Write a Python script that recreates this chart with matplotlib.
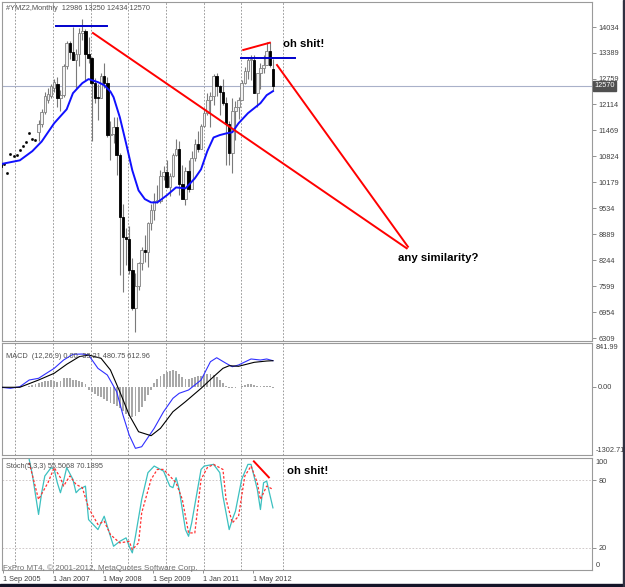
import matplotlib
matplotlib.use("Agg")
import matplotlib.pyplot as plt
import numpy as np

# monthly bars, Aug 2005 .. Nov 2012 (first 12 are flat ticks on the chart)
opens = [10660, 10620, 10400, 10870, 10820, 10850, 10970, 11070, 11170, 11395, 11245, 11220,
         11430, 11630, 11930, 12231, 12321,
         12513, 12622, 12269, 12354, 13063, 13628, 13409, 13212, 13358, 13896, 13930, 13372,
         13265, 12650, 12266, 12263, 12820, 12638, 11350, 11378, 11544, 10851, 9325, 8829,
         8776, 8001, 7063, 7609, 8168, 8500, 8447, 9172, 9496, 9712, 9713, 10345,
         10428, 10067, 10325, 10857, 11009, 10137, 9774, 10466, 10015, 10788, 11118, 11006,
         11578, 11892, 12226, 12320, 12811, 12570, 12414, 12143, 11614, 10913, 11955, 12046,
         12218, 12633, 12952, 13212, 13214, 12393, 12880, 13009, 13091, 13437, 12986]
highs = [10660, 10620, 10400, 10870, 10820, 10850, 10970, 11070, 11170, 11395, 11245, 11220,
         11720, 11990, 12420, 12511, 12629,
         12733, 12795, 12480, 13120, 13690, 13693, 14022, 13480, 14000, 14230, 13980, 13780,
         13280, 12770, 12630, 12900, 13140, 12780, 11700, 11810, 11790, 10900, 9650, 9030,
         9090, 8300, 7930, 8200, 8580, 8880, 9200, 9630, 9920, 10120, 10480, 10580,
         10730, 10400, 10900, 11260, 11210, 10600, 10550, 10720, 10950, 11250, 11450, 11630,
         12020, 12390, 12420, 12870, 12880, 12590, 12750, 12300, 11700, 12280, 12200, 12300,
         12720, 13050, 13290, 13340, 13340, 12900, 13140, 13330, 13660, 13660, 13250]
lows = [10540, 10620, 10400, 10870, 10820, 10850, 10970, 11070, 11170, 11395, 11245, 11220,
        11210, 11550, 11880, 12136, 12280,
        12410, 12050, 11940, 12300, 13000, 13250, 13210, 12518, 13070, 13700, 12724, 13150,
        11200, 12150, 11730, 12260, 12520, 11290, 10730, 11150, 10360, 7882, 7449, 8118,
        7909, 7000, 6470, 7500, 8000, 8200, 8080, 9000, 9250, 9670, 9670, 10230,
        10030, 9830, 10300, 10840, 9870, 9770, 9614, 9940, 10000, 10700, 10930, 11000,
        11550, 11850, 11550, 12090, 12330, 11860, 12090, 10600, 10600, 10400, 11230, 11740,
        12210, 12620, 12740, 12710, 12390, 12040, 12490, 12880, 13080, 13050, 12434]
closes = [10560, 10620, 10400, 10870, 10820, 10850, 10970, 11070, 11170, 11395, 11245, 11220,
          11630, 11930, 12330, 12371, 12563,
          12672, 12269, 12354, 13063, 13628, 13409, 13212, 13358, 13896, 13930, 13372, 13265,
          12650, 12266, 12263, 12820, 12638, 11350, 11378, 11544, 10851, 9325, 8829, 8776,
          8001, 7063, 7609, 8168, 8500, 8447, 9172, 9496, 9712, 9713, 10345, 10428,
          10067, 10325, 10857, 11009, 10137, 9774, 10466, 10015, 10788, 11118, 11006, 11578,
          11892, 12226, 12320, 12811, 12570, 12414, 12143, 11614, 10913, 11955, 12046, 12218,
          12633, 12952, 13212, 13214, 12393, 12880, 13009, 13091, 13437, 13096, 12570]

# moving average (blue)
ma_idx = [0, 6, 10, 13, 17, 21, 23, 26, 28, 31, 33, 35, 36, 38, 40, 42, 44, 46, 48, 50,
          53, 56, 59, 62, 64, 66, 68, 70, 72, 74, 76, 79, 83, 85, 87]
ma_val = [10630, 10722, 10950, 11190, 11644, 11990, 12390, 12640, 12740, 12665, 12590, 12430,
          12291, 11793, 11146, 10473, 9975, 9760, 9677, 9677, 9851, 10050, 10025, 10274, 10500,
          10950, 11290, 11350, 11390, 11420, 11644, 11893, 12142, 12341, 12440]

# MACD panel
macd_hist = [0, 0, 0, 0, 0, 0, 0, 0, 0, 19, 38, 57, 77, 96, 115, 115, 134, 115, 96, 115,
             172, 180, 172, 134, 134, 115, 96, 57,
             -57, -96, -134, -172, -192, -230, -268, -306, -326, -364, -402, -460, -517, -555,
             -575, -555, -479, -383, -268, -153, -57,
             77, 153, 211, 249, 287, 306, 326, 306, 249, 192, 153, 153, 172, 192, 211, 211, 230,
             249, 249, 230, 192, 134, 77, 19,
             -19, -19, -19, 0, 19, 38, 57, 57, 38, 19, 19, 19, 19, 19, -19]
macd_blue_idx = [0, 3, 6, 9, 12, 17, 20, 23, 26, 28, 31, 34, 37, 39, 41, 43, 45, 49, 52, 55,
                 57, 60, 64, 67, 69, 72, 74, 76, 80, 83, 85, 87]
macd_blue_val = [-6, -26, 5, 133, 166, 357, 516, 626, 631, 612, 357, 229, -91, -537, -920,
                 -1175, -1144, -792, -474, -217, -121, -58, 133, 484, 560, 453, 388, 421, 536,
                 516, 536, 503]
macd_black_idx = [0, 6, 12, 17, 21, 25, 28, 32, 35, 38, 41, 44, 48, 51, 55, 59, 64, 68, 71,
                  73, 76, 81, 85, 87]
macd_black_val = [-6, -6, 133, 262, 434, 580, 612, 549, 325, -91, -537, -857, -933, -792,
                  -474, -282, -26, 197, 357, 407, 396, 472, 497, 503]

# Stochastic panel
stoch_k_idx = [9, 10, 12, 13, 14, 16, 17, 18, 19, 20, 21, 23, 24, 25, 27, 28, 31, 33, 34, 36,
               38, 40, 41, 42, 43, 45, 47, 49, 51, 52, 54, 55, 56, 57, 59, 60, 61, 64, 65, 68,
               70, 71, 73, 74, 75, 77, 79, 80, 82, 83, 84, 85, 87]
stoch_k_val = [98.8, 85.4, 49.6, 69, 83.9, 91.4, 89.8, 77.9, 69, 79.4, 91.4, 80.9, 69, 72,
               74.9, 45, 36.1, 48, 39, 21.2, 25.6, 28.7, 21.2, 15.3, 30.1, 63, 86.9, 92.8,
               89.8, 88.3, 74.9, 73.5, 82.4, 72, 36.1, 30.1, 42.1, 89.8, 92.8, 94.3, 86.9, 66,
               36.1, 45.1, 52.5, 80.9, 94.3, 94.3, 72, 54, 77.9, 79.4, 55.5]
stoch_d_idx = [9, 12, 15, 17, 19, 20, 22, 24, 26, 28, 31, 33, 35, 38, 41, 42, 44, 45, 48, 50,
               52, 55, 56, 58, 60, 62, 64, 66, 68, 71, 72, 74, 76, 78, 80, 82, 83, 85, 87]
stoch_d_val = [95.8, 63, 77.9, 91.4, 82.4, 74.9, 83.9, 76.4, 73.5, 55.5, 40.6, 43.6, 31.6,
               24.2, 25.6, 18.2, 24.2, 51, 80.9, 89.8, 89.8, 80.9, 77.9, 63, 33.1, 33.1, 80.9,
               91.4, 94.3, 89.8, 63, 42.1, 48, 83.9, 92.8, 77.9, 63, 74.9, 72]

# drawn objects (bar index, value)
red_lines = [((29.4, 13885), (129.8, 8537)), ((88.3, 13090), (130.2, 8577)),
             ((77.5, 13463), (86.0, 13644))]
blue_lines = [(17.6, 33.9, 14059), (76.8, 94.1, 13264)]
stoch_red = ((80.9, 97), (85.7, 82.7))

price_ticks = [14034, 13389, 12744, 12114, 11469, 10824, 10179, 9534, 8889, 8244, 7599, 6954, 6309]
price_labels = ["14034", "13389", "12759", "12114", "11469", "10824", "10179", "9534", "8889",
                "8244", "7599", "6954", "6309"]
date_idx = [1, 17, 33, 49, 65, 81]
date_labels = ["1 Sep 2005", "1 Jan 2007", "1 May 2008", "1 Sep 2009", "1 Jan 2011", "1 May 2012"]
grid_idx = [4.45, 16.5, 28.7, 40.7, 52.8, 64.8, 76.9, 90.1]
last_price = 12570

plt.rcParams['font.family'] = ['Liberation Sans', 'DejaVu Sans']
W, H = 625, 587
fig = plt.figure(figsize=(W / 100, H / 100), dpi=100, facecolor='white')


def px_box(x0, y0, x1, y1):
    return [x0 / W, 1 - y1 / H, (x1 - x0) / W, (y1 - y0) / H]


ax = fig.add_axes(px_box(2, 2, 592, 341))
am = fig.add_axes(px_box(2, 343, 592, 455))
ast = fig.add_axes(px_box(2, 458, 592, 570))

tcol = '#404040'
fs = 5.3
for a in (ax, am, ast):
    a.set_xlim(0.3, 189.1)
    a.set_facecolor('white')
    for s in a.spines.values():
        s.set_color('#9a9a9a')
        s.set_linewidth(0.8)
    for g in grid_idx:
        a.axvline(g, color='#8a8a8a', lw=0.6, ls=(0, (2, 2)), zorder=0)
    a.yaxis.tick_right()
    a.tick_params(axis='y', length=3, width=0.6, color='#808080', labelsize=fs,
                  labelcolor=tcol, pad=1.5)
ax.set_xticks([])
am.set_xticks([])

# --- price panel ---
ax.set_ylim(6235, 14655)
idx = np.arange(len(opens))
o, hi, lo, c = map(np.array, (opens, highs, lows, closes))
flat = hi == lo
cnd = ~flat
up = (c >= o) & cnd
dn = (c < o) & cnd
ax.axhline(last_price, color='#a9b1c9', lw=0.8, zorder=1)
ax.vlines(idx[cnd], lo[cnd], hi[cnd], color='#7a7a7a', lw=0.8, zorder=2)
body = np.maximum(np.abs(c - o), 20)
bot = np.minimum(o, c)
ax.bar(idx[up], body[up], bottom=bot[up], width=0.8, color='#f2f2f2', edgecolor='#808080',
       lw=0.6, zorder=3)
ax.bar(idx[dn], body[dn], bottom=bot[dn], width=0.8, color='black', edgecolor='black',
       lw=0.6, zorder=3)
ax.plot(idx[flat], c[flat], ls='none', marker='s', ms=0.9, color='black', zorder=3)
ax.plot(ma_idx, ma_val, color='#1010ff', lw=1.4, zorder=4)
for (x0, y0), (x1, y1) in red_lines:
    ax.plot([x0, x1], [y0, y1], color='#ff0000', lw=1.4, zorder=5)
for x0, x1, y in blue_lines:
    ax.plot([x0, x1], [y, y], color='#0000cc', lw=1.4, zorder=5)
ax.set_yticks(price_ticks)
ax.set_yticklabels(price_labels)
ax.annotate(str(last_price), xy=(1.004, last_price), xycoords=('axes fraction', 'data'),
            fontsize=fs, color='white', va='center', ha='left',
            bbox=dict(boxstyle='square,pad=0.15', fc='#505050', ec='#505050'))
ax.text(90.2, 13612, "oh shit!", fontsize=8.2, fontweight='bold', color='black',
        ha='left', va='center', zorder=6)
ax.text(127, 8296, "any similarity?", fontsize=8.2, fontweight='bold', color='black',
        ha='left', va='center', zorder=6)

# --- MACD panel ---
am.set_ylim(-1302.71, 841.99)
am.bar(idx, macd_hist, width=0.6, color='#a8a8a8', zorder=2)
am.plot(macd_blue_idx, macd_blue_val, color='#3030ff', lw=0.8, zorder=3)
am.plot(macd_black_idx, macd_black_val, color='black', lw=0.8, zorder=3)
am.set_yticks([0])
am.set_yticklabels(["0.00"])
am.text(1.006, 0.99, "841.99", transform=am.transAxes, fontsize=fs, color=tcol,
        ha='left', va='top')
am.text(1.006, 0.01, "-1302.71", transform=am.transAxes, fontsize=fs, color=tcol,
        ha='left', va='bottom', clip_on=False)

# --- Stochastic panel ---
ast.set_ylim(0, 100)
for lvl in (20, 80):
    ast.axhline(lvl, color='#c8c0c0', lw=0.6, ls=(0, (2, 2)), zorder=0)
ast.plot(stoch_k_idx, stoch_k_val, color='#3cc0c0', lw=0.9, zorder=3)
ast.plot(stoch_d_idx, stoch_d_val, color='#ff3030', lw=0.9, ls=(0, (2, 1.5)), zorder=3)
(sx0, sy0), (sx1, sy1) = stoch_red
ast.plot([sx0, sx1], [sy0, sy1], color='#ff0000', lw=1.4, zorder=5)
ast.text(91.5, 88, "oh shit!", fontsize=8.2, fontweight='bold', color='black',
         ha='left', va='center', zorder=6)
ast.set_yticks([80, 20])
ast.set_yticklabels(["80", "20"])
ast.text(1.006, 0.99, "100", transform=ast.transAxes, fontsize=fs, color=tcol, ha='left', va='top')
ast.text(1.006, 0.01, "0", transform=ast.transAxes, fontsize=fs, color=tcol, ha='left', va='bottom')
ast.set_xticks([d - 0.5 for d in date_idx])
ast.set_xticklabels(date_labels)
ast.tick_params(axis='x', length=2, width=0.6, color='#808080', labelsize=fs,
                labelcolor=tcol, pad=2)
for lb in ast.get_xticklabels():
    lb.set_ha('left')

# header texts
fig.text(6 / W, 1 - 8 / H, "#YMZ2,Monthly  12986 13250 12434 12570", fontsize=fs,
         color='#505050', va='center', ha='left')
fig.text(6 / W, 1 - 356 / H, "MACD  (12,26,9) 0.00 -33.21 480.75 612.96", fontsize=fs,
         color='#505050', va='center', ha='left')
fig.text(6 / W, 1 - 466 / H, "Stoch(5,3,3) 55.5068 70.1895", fontsize=fs,
         color='#505050', va='center', ha='left')
fig.text(3 / W, 1 - 568 / H, "FxPro MT4, \u00a9 2001-2012, MetaQuotes Software Corp.",
         fontsize=5.8, color='#707070', va='center', ha='left')

# window border strips
fig.patches.append(plt.Rectangle((0, 0), 1, 3 / H, transform=fig.transFigure,
                                 color='#141428', zorder=10))
fig.patches.append(plt.Rectangle((623 / W, 0), 2 / W, 1, transform=fig.transFigure,
                                 color='#303040', zorder=10))

fig.savefig("out.png", dpi=100, facecolor='white')
